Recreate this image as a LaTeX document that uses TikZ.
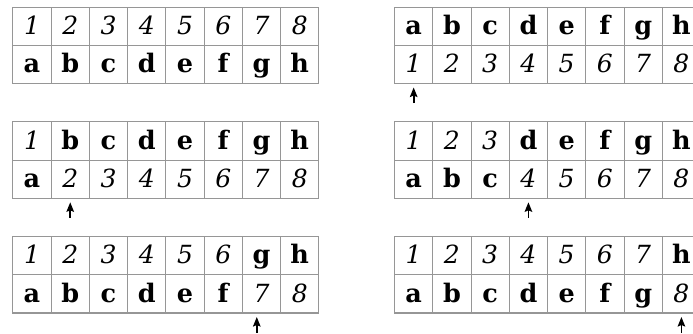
\documentclass[tikz,border=0pt]{standalone}
\usepackage{fontspec}
\setmainfont{DejaVu Serif}
\usetikzlibrary{arrows.meta,calc}
\definecolor{gridgray}{RGB}{150,150,150}
\tikzset{
  cell/.style={draw=gridgray,line width=1.1pt,minimum width=38.25pt,minimum height=38.2pt,
    inner sep=0pt,anchor=north west,text=black,text height=20pt,text depth=3.6pt},
  num/.style={cell,font=\fontsize{25}{25}\selectfont\itshape},
  let/.style={cell,font=\fontsize{25.5}{25.5}\selectfont\bfseries},
  ptr/.style={-{Stealth[length=9.5pt,width=7.5pt,inset=1.5pt]},line width=1.7pt,shorten >=3.5pt}
}
\newcommand\swaptable[4]{%
  \foreach \i/\l in {1/a,2/b,3/c,4/d,5/e,6/f,7/g,8/h}{%
    \pgfmathsetmacro\xx{#2+(\i-1)*38.25}%
    \ifnum\i<#4\relax
      \node[num] (#1a\i) at (\xx,#3) {\i};
      \node[let] (#1b\i) at (\xx,#3+38.2) {\l};
    \else
      \node[let] (#1a\i) at (\xx,#3) {\l};
      \node[num] (#1b\i) at (\xx,#3+38.2) {\i};
    \fi
  }%
}
\begin{document}
\begin{tikzpicture}[x=1pt,y=-1pt]
\clip (0,0) rectangle (693,333);
\fill[white] (0,0) rectangle (693,333);
\swaptable{ta}{12.3}{6.5}{9}
\swaptable{tb}{394}{6.5}{1}
\swaptable{tc}{12.3}{121.3}{2}
\swaptable{td}{394}{121.3}{4}
\swaptable{te}{12.3}{236}{7}
\swaptable{tf}{394}{236}{8}
\coordinate (tbtail) at ($(tbb1.south)+(0,19)$);
\coordinate (tctail) at ($(tcb2.south)+(0,19)$);
\coordinate (tdtail) at ($(tdb4.south)+(0,19)$);
\coordinate (tetail) at ($(teb7.south)+(-4.7,19)$);
\coordinate (tetip) at ($(teb7.south)+(-4.7,0)$);
\coordinate (tftail) at ($(tfb8.south)+(0,19)$);
\draw[ptr] (tbtail) -- (tbb1.south);
\draw[ptr] (tctail) -- (tcb2.south);
\draw[ptr] (tdtail) -- (tdb4.south);
\draw[ptr] (tetail) -- (tetip);
\draw[ptr] (tftail) -- (tfb8.south);
\end{tikzpicture}
\end{document}
